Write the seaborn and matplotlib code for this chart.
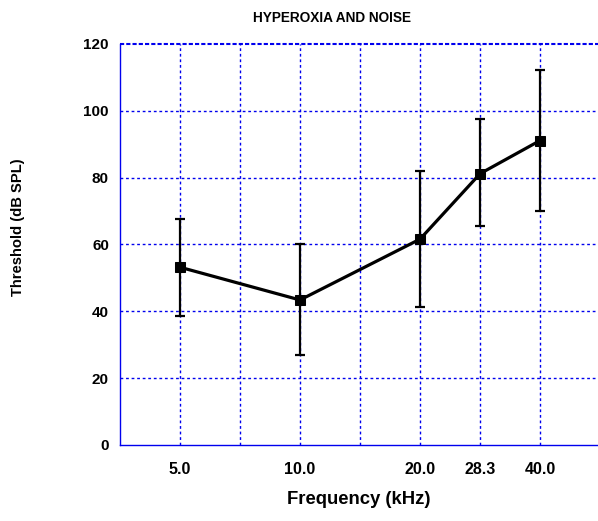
import numpy as np
import pandas as pd
import matplotlib
matplotlib.use("Agg")
import matplotlib.pyplot as plt
from matplotlib import font_manager
import seaborn as sns

freq = [5.0, 10.0, 20.0, 28.3, 40.0]
threshold = [53.2, 43.4, 61.6, 81.2, 91.1]
err_upper = [67.6, 60.2, 82.0, 97.5, 112.2]
err_lower = [38.6, 26.9, 41.4, 65.6, 70.0]
tick_labels = ["5.0", "10.0", "20.0", "28.3", "40.0"]
y_ticks = [0, 20, 40, 60, 80, 100, 120]

sns.set_style("white")
plt.rcParams['font.family'] = ['Liberation Sans', 'DejaVu Sans']
plt.rcParams['font.weight'] = 'bold'
for k in ["text.color", "axes.labelcolor", "xtick.color", "ytick.color"]:
    plt.rcParams[k] = "black"

narrow_bold = any(f.name == "Liberation Sans Narrow" and
                  (f.weight == "bold" or (isinstance(f.weight, int) and f.weight >= 700))
                  for f in font_manager.fontManager.ttflist)
if narrow_bold:
    label_family = ["Liberation Sans Narrow", "DejaVu Sans"]
    title_size, xlab_size, ylab_size = 11.9, 15.5, 12.7
else:
    label_family = ["Liberation Sans", "DejaVu Sans"]
    title_size, xlab_size, ylab_size = 9.8, 13.3, 10.6

W, H = 598, 521
fig = plt.figure(figsize=(W / 100, H / 100), dpi=100)
ax = fig.add_axes([120 / W, (H - 445) / H, (600 - 120) / W, (445 - 44) / H])

df = pd.DataFrame({"freq": freq, "threshold": threshold})

ax.set_xscale("log", base=2)
xmin = 5.0 / np.sqrt(2)
xmax = 40.0 * np.sqrt(2)
ax.set_xlim(xmin, xmax)
ax.set_ylim(0, 120)

grid_x = [5.0 * 2 ** (k / 2) for k in range(0, 7)]
for gx in grid_x:
    ax.axvline(gx, color="#0000ee", lw=1.0, ls=(0, (2, 2)), zorder=1)
for gy in y_ticks[1:-1]:
    ax.axhline(gy, color="#0000ee", lw=1.0, ls=(0, (2, 2)), zorder=1)

yerr = np.array([np.array(threshold) - np.array(err_lower),
                 np.array(err_upper) - np.array(threshold)])
ax.errorbar(freq, threshold, yerr=yerr, fmt="none", ecolor="black",
            elinewidth=1.6, capsize=3.5, capthick=1.6, zorder=3)
sns.lineplot(data=df, x="freq", y="threshold", ax=ax, color="black",
             lw=2.3, marker="s", markersize=7.5, markeredgecolor="black",
             zorder=4)

ax.set_xticks(freq)
ax.set_xticklabels(tick_labels)
ax.xaxis.set_minor_locator(matplotlib.ticker.NullLocator())
ax.set_yticks(y_ticks)
ax.set_yticklabels([str(v) for v in y_ticks])
ax.tick_params(axis="x", direction="in", length=4, color="#0000ee",
               labelsize=11.5, pad=12)
ax.tick_params(axis="y", direction="out", length=2, color="#0000ee",
               labelsize=11, pad=6)
for lab in ax.get_xticklabels() + ax.get_yticklabels():
    lab.set_fontweight("bold")

for s in ["left", "bottom"]:
    ax.spines[s].set_color("#0000ee")
    ax.spines[s].set_linewidth(1.0)
ax.spines["right"].set_visible(False)
ax.spines["top"].set_visible(False)
ax.axhline(120, color="#0000ee", lw=1.5, ls=(0, (2, 1)), zorder=1, clip_on=False)

ax.set_xlabel("")
ax.set_ylabel("")
fig.text(359 / W, 1 - 500 / H, "Frequency (kHz)", ha="center", va="center",
         fontsize=xlab_size, fontweight="bold", family=label_family)
fig.text(18 / W, 1 - 227 / H, "Threshold (dB SPL)", ha="center", va="center",
         rotation=90, fontsize=ylab_size, fontweight="bold", family=label_family)
fig.text(332 / W, 1 - 18 / H, "HYPEROXIA AND NOISE", ha="center", va="center",
         fontsize=title_size, fontweight="bold", family=label_family)

fig.savefig("out.png", dpi=100)
